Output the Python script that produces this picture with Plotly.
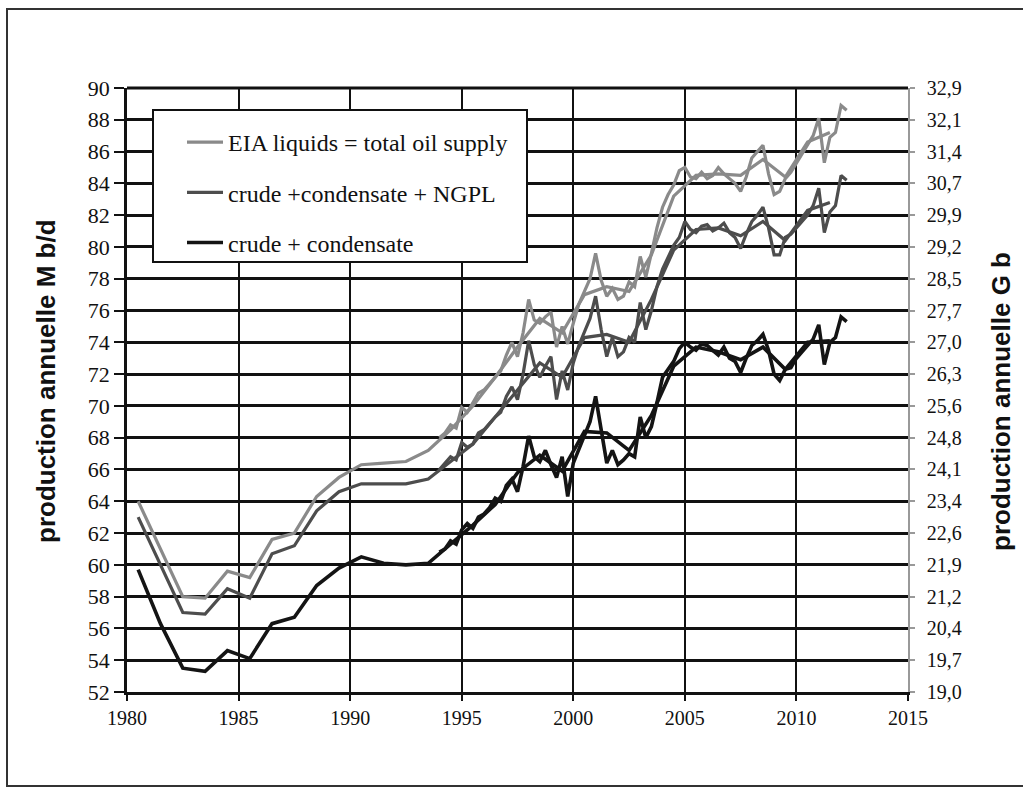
import plotly.graph_objects as go

# ---- data -------------------------------------------------------------
# annual averages 1980-1993 (mid-year points)
years_early = [1980.5, 1981.5, 1982.5, 1983.5, 1984.5, 1985.5, 1986.5,
               1987.5, 1988.5, 1989.5, 1990.5, 1991.5, 1992.5, 1993.5]
liquids_early = [64.0, 61.0, 58.0, 57.9, 59.6, 59.2, 61.6,
                 62.0, 64.3, 65.5, 66.3, 66.4, 66.5, 67.2]
ngpl_early = [63.0, 60.0, 57.0, 56.9, 58.5, 57.9, 60.7,
              61.2, 63.4, 64.6, 65.1, 65.1, 65.1, 65.4]
crude_early = [59.7, 56.3, 53.5, 53.3, 54.6, 54.1, 56.3,
               56.7, 58.7, 59.8, 60.5, 60.1, 60.0, 60.1]

# annual averages 1994-2011
years_annual = [1994.5, 1995.5, 1996.5, 1997.5, 1998.5, 1999.5, 2000.5,
                2001.5, 2002.5, 2003.5, 2004.5, 2005.5, 2006.5, 2007.5,
                2008.5, 2009.5, 2010.5, 2011.5]
liquids_annual = [68.5, 70.0, 71.8, 73.7, 75.5, 74.6, 77.0, 77.5, 77.2,
                  79.5, 83.2, 84.5, 84.6, 84.5, 85.5, 84.4, 86.6, 87.2]
ngpl_annual = [66.5, 67.6, 69.3, 71.0, 72.7, 71.8, 74.3, 74.5, 74.0,
               76.7, 79.8, 81.1, 81.2, 80.7, 81.6, 80.4, 82.3, 82.8]
crude_annual = [61.3, 62.5, 63.8, 65.8, 66.9, 65.9, 68.4, 68.3, 67.2,
                69.4, 72.5, 73.7, 73.4, 72.9, 73.7, 72.3, 74.0, 74.1]

# quarterly values 1994 Q1 - 2012 Q2
years_q = [1994 + 0.25 * i for i in range(74)]
liquids_q = [68.0, 68.3, 68.8, 68.6, 69.9, 69.6, 70.2, 70.8,
             71.0, 71.4, 71.8, 72.2, 73.2, 74.0, 73.1, 74.6,
             76.7, 75.4, 75.2, 75.6, 75.9, 73.7, 75.0, 73.9,
             75.2, 76.4, 77.2, 78.0, 79.6, 77.9, 76.9, 77.4,
             76.7, 76.9, 77.8, 77.5, 79.4, 78.1, 79.6, 81.2,
             82.5, 83.3, 83.9, 84.8, 85.0, 84.4, 84.3, 84.7,
             84.3, 84.5, 85.0, 84.6, 84.3, 84.0, 83.5, 84.4,
             85.6, 86.0, 86.4, 84.6, 83.3, 83.5, 84.3, 84.7,
             85.3, 85.8, 86.4, 87.0, 88.1, 85.3, 86.9, 87.2,
             88.9, 88.6]
ngpl_q = [66.0, 66.4, 66.8, 66.6, 67.7, 67.4, 67.6, 68.3,
          68.5, 68.9, 69.3, 69.6, 70.6, 71.2, 70.4, 72.0,
          74.1, 72.6, 71.8, 72.5, 73.1, 70.4, 72.2, 71.0,
          72.7, 73.8, 74.6, 75.5, 76.9, 74.8, 73.1, 74.3,
          73.1, 73.4, 74.3, 74.0, 76.5, 74.8, 76.0, 77.5,
          78.6, 79.4, 80.1, 80.6, 81.6, 81.1, 80.9, 81.3,
          81.4, 81.0, 81.2, 81.5, 80.9, 80.6, 79.9, 80.8,
          81.6, 82.0, 82.5, 81.2, 79.5, 79.5, 80.6, 80.8,
          81.2, 81.6, 82.0, 82.6, 83.7, 80.9, 82.2, 82.6,
          84.5, 84.2]
crude_q = [60.8, 61.0, 61.5, 61.3, 62.2, 62.6, 62.3, 63.0,
           63.2, 63.6, 64.2, 64.0, 65.0, 65.4, 64.6, 66.2,
           68.1, 66.8, 66.5, 67.2, 66.3, 65.5, 66.8, 64.3,
           66.4, 67.3, 68.2, 69.0, 70.6, 68.4, 66.4, 67.2,
           66.3, 66.6, 67.0, 66.8, 69.3, 68.0, 68.7, 70.2,
           71.8, 72.3, 72.8, 73.6, 74.0, 73.7, 73.5, 73.9,
           73.8, 73.5, 73.2, 73.7, 73.0, 72.8, 72.1, 73.0,
           73.8, 74.1, 74.5, 73.5, 72.0, 71.6, 72.3, 72.4,
           73.0, 73.4, 73.8, 74.2, 75.1, 72.6, 74.0, 74.3,
           75.6, 75.3]

series_names = ["EIA liquids = total oil supply",
                "crude +condensate + NGPL",
                "crude + condensate"]

# left axis ticks (M b/d) and matching annual volume labels (G b)
left_ticks = list(range(52, 91, 2))
right_labels = ["19,0", "19,7", "20,4", "21,2", "21,9", "22,6", "23,4",
                "24,1", "24,8", "25,6", "26,3", "27,0", "27,7", "28,5",
                "29,2", "29,9", "30,7", "31,4", "32,1", "32,9"]
x_ticks = [1980, 1985, 1990, 1995, 2000, 2005, 2010, 2015]

# ---- figure -----------------------------------------------------------
colors = ["#8a8a8a", "#4d4d4d", "#141414"]
widths = [3.2, 3.2, 3.6]
early = [liquids_early, ngpl_early, crude_early]
annual = [liquids_annual, ngpl_annual, crude_annual]
quarterly = [liquids_q, ngpl_q, crude_q]

fig = go.Figure()
for i in range(3):
    fig.add_trace(go.Scatter(
        x=years_early + years_annual, y=early[i] + annual[i],
        mode="lines", name=series_names[i], legendgroup=str(i),
        line=dict(color=colors[i], width=widths[i]),
        hoverinfo="skip"))
    fig.add_trace(go.Scatter(
        x=years_q, y=quarterly[i], mode="lines", name=series_names[i],
        legendgroup=str(i), showlegend=False,
        line=dict(color=colors[i], width=widths[i])))

# secondary axis carrier (invisible)
fig.add_trace(go.Scatter(x=[1980, 2015], y=[52, 90], yaxis="y2",
                         mode="lines", line=dict(width=0),
                         showlegend=False, hoverinfo="skip"))

serif = "Liberation Serif, Times New Roman, serif"
sans = "Liberation Sans, Arial, sans-serif"

# plot-area geometry in pixels (for paper-coordinate conversion)
L, R, T, B = 127, 908, 88, 692
W, H = 1023, 788


def px(x):
    return (x - L) / (R - L)


def py(y):
    return (B - y) / (B - T)


fig.update_layout(
    width=W, height=H,
    margin=dict(l=L, r=W - R, t=T, b=H - B),
    paper_bgcolor="white", plot_bgcolor="white",
    showlegend=True,
    legend=dict(x=px(182), y=py(120), xanchor="left", yanchor="top",
                bgcolor="rgba(0,0,0,0)", borderwidth=0,
                font=dict(family=serif, size=24, color="#111"),
                tracegroupgap=16, traceorder="grouped", itemwidth=36),
    xaxis=dict(range=[1980, 2015], tickvals=x_ticks,
               showgrid=True, gridcolor="#111", gridwidth=2,
               showline=True, linecolor="#111", linewidth=2.5,
               ticks="outside", ticklen=6, tickcolor="#111", tickwidth=2,
               tickfont=dict(family=serif, size=20, color="#111"),
               zeroline=False, mirror=False),
    yaxis=dict(range=[52, 90], tickvals=left_ticks,
               showgrid=True, gridcolor="#111", gridwidth=2.5,
               showline=True, linecolor="#111", linewidth=2.5,
               ticks="outside", ticklen=10, tickcolor="#111", tickwidth=2,
               tickfont=dict(family=serif, size=22, color="#111"),
               zeroline=False),
    yaxis2=dict(range=[52, 90], overlaying="y", side="right",
                tickvals=left_ticks, ticktext=right_labels,
                showgrid=False, showline=True, linecolor="#999",
                linewidth=1.5, ticks="outside", ticklen=5,
                tickcolor="#999", tickwidth=1.5, ticklabelstandoff=8,
                tickfont=dict(family=serif, size=20, color="#111"),
                zeroline=False),
    shapes=[
        # legend frame
        dict(type="rect", xref="paper", yref="paper",
             x0=px(153), x1=px(527), y0=py(262), y1=py(110),
             line=dict(color="#111", width=2), fillcolor="white",
             layer="above"),
        # outer frame
        dict(type="rect", xref="paper", yref="paper",
             x0=px(7), x1=px(1040), y0=py(786), y1=py(9),
             line=dict(color="#333", width=2)),
        # top border of plot area
        dict(type="line", xref="paper", yref="paper",
             x0=0, x1=1, y0=1, y1=1, line=dict(color="#111", width=3)),
    ],
    annotations=[
        dict(text="<b>production annuelle M b/d</b>", textangle=-90,
             xref="paper", yref="paper", x=px(46), y=py(381),
             xanchor="center", yanchor="middle",
             showarrow=False, font=dict(family=sans, size=26, color="#111")),
        dict(text="<b>production annuelle G b</b>", textangle=-90,
             xref="paper", yref="paper", x=px(1001), y=py(402),
             xanchor="center", yanchor="middle",
             showarrow=False, font=dict(family=sans, size=26, color="#111")),
    ],
)

fig.write_html("out.html")
